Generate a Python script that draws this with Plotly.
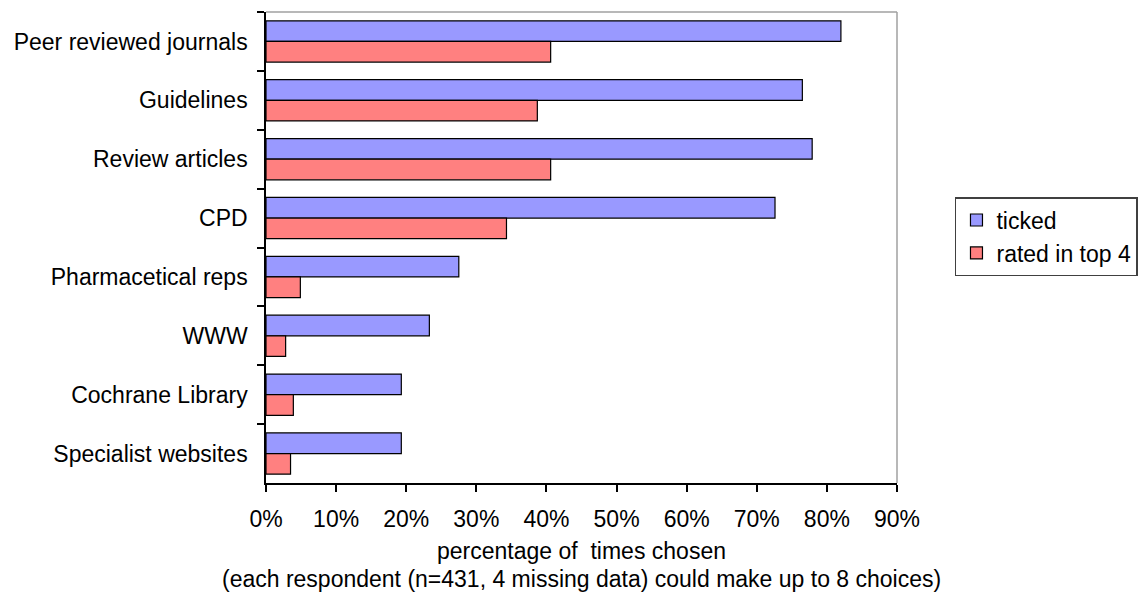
import plotly.graph_objects as go

# Information sources and how often each was chosen (percent of respondents)
categories = [
    "Peer reviewed journals",
    "Guidelines",
    "Review articles",
    "CPD",
    "Pharmacetical reps",
    "WWW",
    "Cochrane Library",
    "Specialist websites",
]
ticked = [82.0, 76.5, 77.9, 72.6, 27.5, 23.3, 19.3, 19.3]
rated_top4 = [40.6, 38.7, 40.6, 34.3, 4.9, 2.8, 3.9, 3.5]
x_ticks = [0, 10, 20, 30, 40, 50, 60, 70, 80, 90]
x_tick_labels = [f"{v}%" for v in x_ticks]

FONT = "Liberation Sans, Arial, sans-serif"
FS = 23

fig = go.Figure()
fig.add_trace(go.Bar(
    y=categories, x=ticked, orientation="h", name="ticked",
    marker=dict(color="#9999FF", line=dict(color="#000000", width=1.2)),
))
fig.add_trace(go.Bar(
    y=categories, x=rated_top4, orientation="h", name="rated in top 4",
    marker=dict(color="#FF8080", line=dict(color="#000000", width=1.2)),
))

fig.update_layout(
    width=1143, height=599,
    margin=dict(l=266, r=246, t=12, b=116, pad=0),
    paper_bgcolor="white", plot_bgcolor="white",
    barmode="group", bargap=0.3, bargroupgap=0,
    font=dict(family=FONT, size=FS, color="#000000"),
    showlegend=True,
    legend=dict(
        xref="container", yref="container",
        x=0.8355, y=0.671, xanchor="left", yanchor="top",
        bordercolor="#404040", borderwidth=1.5, bgcolor="white",
        font=dict(family=FONT, size=FS, color="#000000"),
        traceorder="normal", itemwidth=30, tracegroupgap=0,
    ),
    xaxis=dict(
        range=[0, 90], tickvals=x_ticks, ticktext=x_tick_labels,
        showgrid=False, zeroline=False,
        showline=True, linecolor="#000000", linewidth=1.5,
        ticks="outside", ticklen=7, tickwidth=1.5, tickcolor="#000000",
        tickfont=dict(size=FS), ticklabelstandoff=8,
        title=dict(text="percentage of  times chosen", font=dict(size=FS), standoff=12),
    ),
    yaxis=dict(
        autorange="reversed", type="category",
        showgrid=False, zeroline=False,
        showline=True, linecolor="#000000", linewidth=1.5,
        ticks="outside", tickson="boundaries", ticklen=7, tickwidth=1.5,
        tickcolor="#000000", tickfont=dict(size=FS), ticklabelstandoff=12,
    ),
    annotations=[
        dict(
            text="(each respondent (n=431, 4 missing data) could make up to 8 choices)",
            xref="paper", yref="paper", x=0.5, y=0, yshift=-96,
            xanchor="center", yanchor="middle", showarrow=False,
            font=dict(family=FONT, size=FS, color="#000000"),
        )
    ],
    shapes=[
        dict(type="line", xref="paper", yref="paper", x0=0, x1=1, y0=1, y1=1,
             line=dict(color="#A0A0A0", width=1.5)),
        dict(type="line", xref="paper", yref="paper", x0=1, x1=1, y0=0, y1=1,
             line=dict(color="#A0A0A0", width=1.5)),
    ],
)

fig.write_html("out.html")
